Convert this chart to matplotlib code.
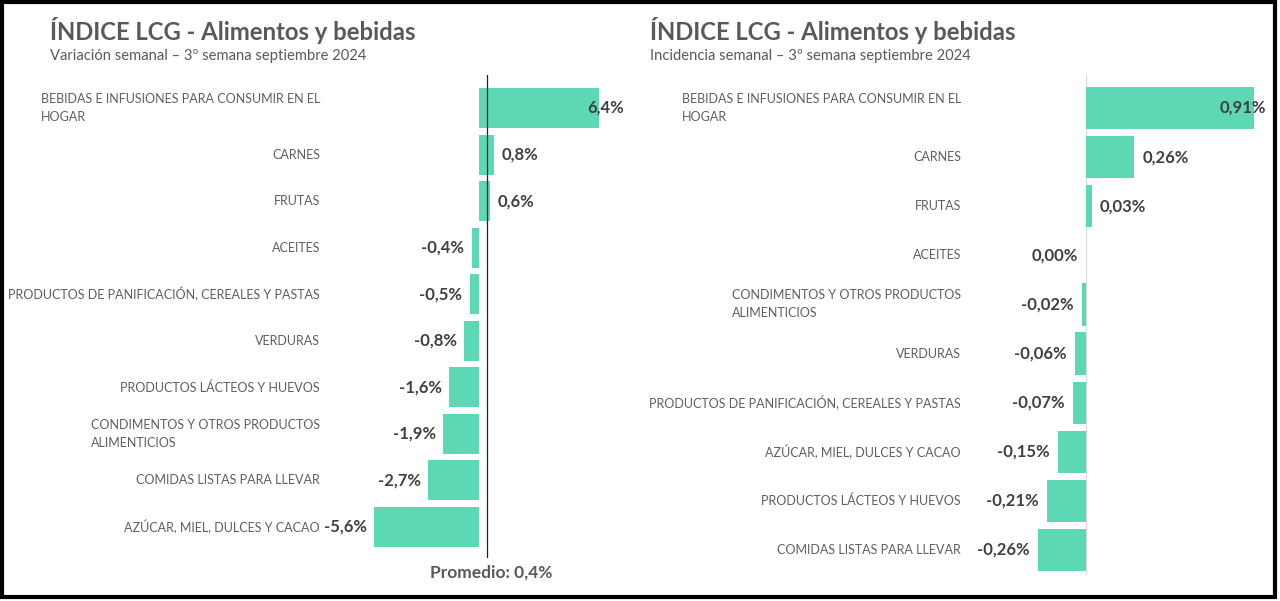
import numpy as np
import matplotlib.pyplot as plt
from matplotlib.patches import Rectangle

# Left panel: variación semanal
var_cats = [
    "BEBIDAS E INFUSIONES PARA CONSUMIR EN EL\nHOGAR",
    "CARNES",
    "FRUTAS",
    "ACEITES",
    "PRODUCTOS DE PANIFICACIÓN, CEREALES Y PASTAS",
    "VERDURAS",
    "PRODUCTOS LÁCTEOS Y HUEVOS",
    "CONDIMENTOS Y OTROS PRODUCTOS\nALIMENTICIOS",
    "COMIDAS LISTAS PARA LLEVAR",
    "AZÚCAR, MIEL, DULCES Y CACAO",
]
var_vals = [6.4, 0.8, 0.6, -0.4, -0.5, -0.8, -1.6, -1.9, -2.7, -5.6]
promedio = 0.4

# Right panel: incidencia semanal
inc_cats = [
    "BEBIDAS E INFUSIONES PARA CONSUMIR EN EL\nHOGAR",
    "CARNES",
    "FRUTAS",
    "ACEITES",
    "CONDIMENTOS Y OTROS PRODUCTOS\nALIMENTICIOS",
    "VERDURAS",
    "PRODUCTOS DE PANIFICACIÓN, CEREALES Y PASTAS",
    "AZÚCAR, MIEL, DULCES Y CACAO",
    "PRODUCTOS LÁCTEOS Y HUEVOS",
    "COMIDAS LISTAS PARA LLEVAR",
]
inc_vals = [0.91, 0.26, 0.03, 0.00, -0.02, -0.06, -0.07, -0.15, -0.21, -0.26]

W, H = 1280, 601
BAR = "#5dd8b4"
GREY = "#595959"
LABEL = "#5f5f5f"
VALUE = "#404040"
FONT = "Lato"

plt.rcParams["font.family"] = [FONT, "DejaVu Sans"]


def px_axes(fig, x0, y0, x1, y1):
    # pixel box (top-left origin) -> figure fraction
    return fig.add_axes([x0 / W, 1 - y1 / H, (x1 - x0) / W, (y1 - y0) / H])


def fmt(v, dec):
    return f"{v:.{dec}f}".replace(".", ",") + "%"


def draw_panel(ax, cats, vals, dec, xlim, ylim, pad, inside_off, gap):
    y = np.arange(len(cats))
    ax.barh(y, vals, height=0.86, color=BAR, zorder=2)
    ax.set_xlim(*xlim)
    ax.set_ylim(*ylim)
    ax.set_yticks(y)
    ax.set_yticklabels(cats, fontsize=9, color=LABEL)
    for t in ax.get_yticklabels():
        t.set_multialignment("left")
        t.set_linespacing(1.6)
        t.set_verticalalignment("center")
    ax.tick_params(axis="y", length=0, pad=pad)
    ax.set_xticks([])
    for s in ax.spines.values():
        s.set_visible(False)
    for i, v in enumerate(vals):
        txt = fmt(v, dec)
        if i == 0:
            # largest bar: label sits over the bar end
            ax.text(v - inside_off, i, txt, ha="left", va="center",
                    fontsize=12, fontweight="bold", color=VALUE, zorder=3)
        elif v > 0:
            ax.text(v + gap, i, txt, ha="left", va="center",
                    fontsize=12, fontweight="bold", color=VALUE, zorder=3)
        else:
            ax.text(v - gap, i, txt, ha="right", va="center",
                    fontsize=12, fontweight="bold", color=VALUE, zorder=3)


fig = plt.figure(figsize=(W / 100, H / 100), dpi=100)

# left panel: 0 at x=479 px, 18.75 px per point
sx = 18.75
axl = px_axes(fig, 340, 75, 640, 558)
row = 46.56
draw_panel(axl, var_cats, var_vals, 1,
           ((340 - 479) / sx, (640 - 479) / sx),
           (9 + (558 - 527) / row, -(108 - 75) / row),
           pad=14.4, inside_off=0.6, gap=0.38)
axl.axvline(promedio, color="#222222", lw=0.9, zorder=4)
fig.text(491 / W, 1 - 573 / H, "Promedio: " + fmt(promedio, 1), ha="center",
         va="center", fontsize=12.5, fontweight="bold", color=GREY)

# right panel: 0 at x=1086 px, 184.6 px per point
sx2 = 184.6
axr = px_axes(fig, 1000, 75, 1272, 575)
row2 = 49.1
draw_panel(axr, inc_cats, inc_vals, 2,
           ((1000 - 1086) / sx2, (1272 - 1086) / sx2),
           (9 + (575 - 550) / row2, -(108 - 75) / row2),
           pad=28, inside_off=0.185, gap=0.045)
axr.axvline(0, color="#d9d9d9", lw=0.8, zorder=1)

# titles
for x0, sub in [(50, "Variación semanal – 3º semana septiembre 2024"),
                (650, "Incidencia semanal – 3º semana septiembre 2024")]:
    fig.text(x0 / W, 1 - 30 / H, "ÍNDICE LCG - Alimentos y bebidas",
             ha="left", va="center", fontsize=17.2, fontweight="bold", color=GREY)
    fig.text(x0 / W, 1 - 56 / H, sub, ha="left", va="center",
             fontsize=10.6, color=GREY)

# outer frame
fig.patches.append(Rectangle((2 / W, 4 / H), 1273 / W, 595 / H,
                             transform=fig.transFigure, fill=False,
                             edgecolor="black", lw=3))

fig.savefig("out.png", dpi=100)
